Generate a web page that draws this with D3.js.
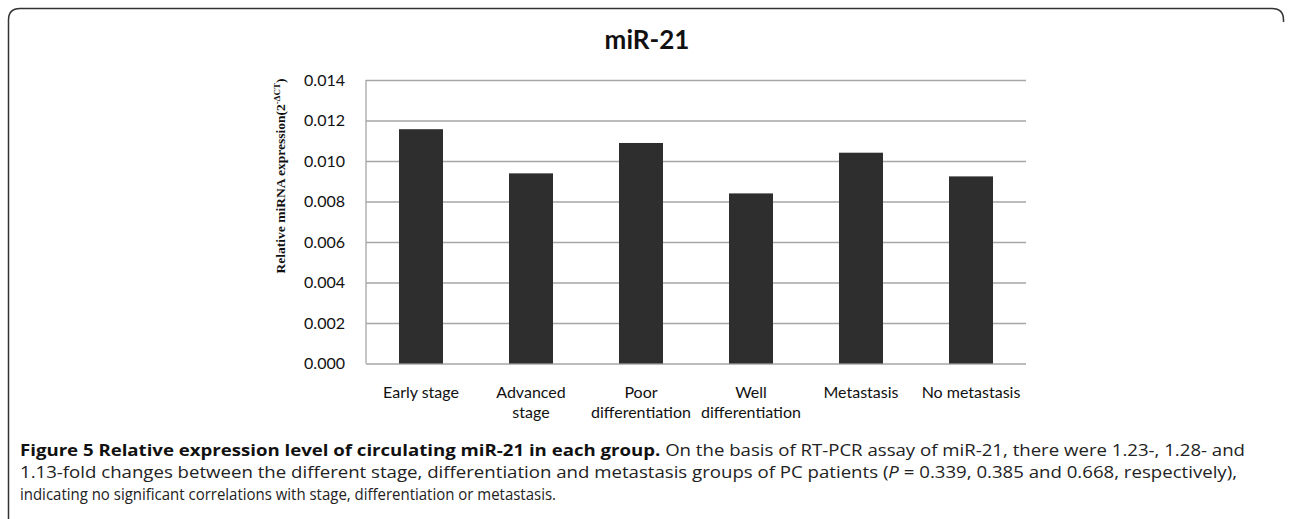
<!DOCTYPE html>
<html>
<head>
<meta charset="utf-8">
<script src="https://cdn.jsdelivr.net/npm/d3@7"></script>
<style>
  html, body { margin: 0; padding: 0; background: #fff; }
  svg { display: block; }
</style>
</head>
<body>
<svg id="chart" width="1292" height="519"></svg>
<script>
// ---- data ----
const categories = ["Early stage", "Advanced stage", "Poor differentiation", "Well differentiation", "Metastasis", "No metastasis"];
const categoryLines = [["Early stage"], ["Advanced", "stage"], ["Poor", "differentiation"], ["Well", "differentiation"], ["Metastasis"], ["No metastasis"]];
const values = [0.01157, 0.00939, 0.01089, 0.00840, 0.01041, 0.00924];
const yTicks = [0, 0.002, 0.004, 0.006, 0.008, 0.010, 0.012, 0.014];
const chartTitle = "miR-21";
const captionBold = "Figure 5 Relative expression level of circulating miR-21 in each group.";
const captionLine1 = " On the basis of RT-PCR assay of miR-21, there were 1.23-, 1.28- and";
const captionLine2a = "1.13-fold changes between the different stage, differentiation and metastasis groups of PC patients (";
const captionLine2b = " = 0.339, 0.385 and 0.668, respectively),";
const captionLine3 = "indicating no significant correlations with stage, differentiation or metastasis.";

// ---- layout ----
const svg = d3.select("#chart");
const plot = { left: 366, right: 1026, top: 80, bottom: 363.5 };

// frame
const fr = d3.path();
fr.moveTo(8.5, 530);
fr.lineTo(8.5, 20);
fr.quadraticCurveTo(8.5, 8.5, 20, 8.5);
fr.lineTo(1272, 8.5);
fr.quadraticCurveTo(1283.5, 8.5, 1283.5, 20);
fr.lineTo(1283.5, 22);
svg.append("path").attr("d", fr.toString()).attr("fill", "none").attr("stroke", "#333").attr("stroke-width", 1.5);

const x = d3.scaleBand().domain(categories).range([plot.left, plot.right]).paddingInner(0.6).paddingOuter(0.3);
const y = d3.scaleLinear().domain([0, 0.014]).range([plot.bottom, plot.top]);

// gridlines
svg.append("g")
  .attr("transform", `translate(${plot.left},0)`)
  .call(d3.axisLeft(y).tickValues(yTicks).tickSize(-(plot.right - plot.left)).tickFormat(""))
  .call(g => g.select(".domain").remove())
  .call(g => g.selectAll("line").attr("stroke", "#a6a6a6").attr("stroke-width", 1.3));

// y axis line
svg.append("line").attr("x1", plot.left).attr("x2", plot.left).attr("y1", plot.top).attr("y2", plot.bottom)
  .attr("stroke", "#a6a6a6").attr("stroke-width", 1.3);

// y tick labels
svg.append("g")
  .attr("transform", `translate(${plot.left},0)`)
  .call(d3.axisLeft(y).tickValues(yTicks).tickSize(0).tickPadding(21).tickFormat(d3.format(".3f")))
  .call(g => g.select(".domain").remove())
  .call(g => g.selectAll("text").attr("font-family", "Lato, 'Open Sans', sans-serif").attr("font-size", 16).attr("fill", "#111"));

// bars
svg.append("g").selectAll("rect").data(values).join("rect")
  .attr("x", (d, i) => x(categories[i]))
  .attr("width", x.bandwidth())
  .attr("y", d => y(d))
  .attr("height", d => y(0) - y(d))
  .attr("fill", "#2e2e2e");

// x category labels
const xl = svg.append("g").attr("font-family", "Lato, 'Open Sans', sans-serif").attr("font-size", 16).attr("fill", "#111");
categoryLines.forEach((lines, i) => {
  const cx = x(categories[i]) + x.bandwidth() / 2;
  const t = xl.append("text").attr("text-anchor", "middle").attr("x", cx).attr("y", 398);
  lines.forEach((ln, j) => t.append("tspan").attr("x", cx).attr("dy", j === 0 ? 0 : 20).text(ln));
});

// y axis title
const yt = svg.append("text")
  .attr("transform", "translate(285,176) rotate(-90)")
  .attr("text-anchor", "middle")
  .attr("font-family", "'Liberation Serif', 'Times New Roman', serif")
  .attr("font-weight", "bold").attr("font-size", 13.5).attr("fill", "#111");
yt.append("tspan").text("Relative miRNA expression(2");
yt.append("tspan").attr("dy", -5).attr("font-size", 9).text("-ΔCT");
yt.append("tspan").attr("dy", 5).text(")");

// chart title
svg.append("text").attr("x", 647).attr("y", 49).attr("text-anchor", "middle")
  .attr("font-family", "Lato, 'Open Sans', sans-serif").attr("font-weight", "bold").attr("font-size", 26)
  .attr("fill", "#111").text(chartTitle);

// caption
const cap = svg.append("g").attr("font-family", "'Open Sans', sans-serif").attr("font-size", 16).attr("fill", "#222");
const c1 = cap.append("text").attr("x", 20).attr("y", 456).attr("textLength", 1225).attr("lengthAdjust", "spacingAndGlyphs");
c1.append("tspan").attr("font-weight", "bold").attr("fill", "#111").text(captionBold);
c1.append("tspan").text(captionLine1);
const c2 = cap.append("text").attr("x", 20).attr("y", 478).attr("textLength", 1217).attr("lengthAdjust", "spacingAndGlyphs");
c2.append("tspan").text(captionLine2a);
c2.append("tspan").attr("font-style", "italic").text("P");
c2.append("tspan").text(captionLine2b);
cap.append("text").attr("x", 20).attr("y", 500).attr("textLength", 536).attr("lengthAdjust", "spacingAndGlyphs").text(captionLine3);
</script>
</body>
</html>
